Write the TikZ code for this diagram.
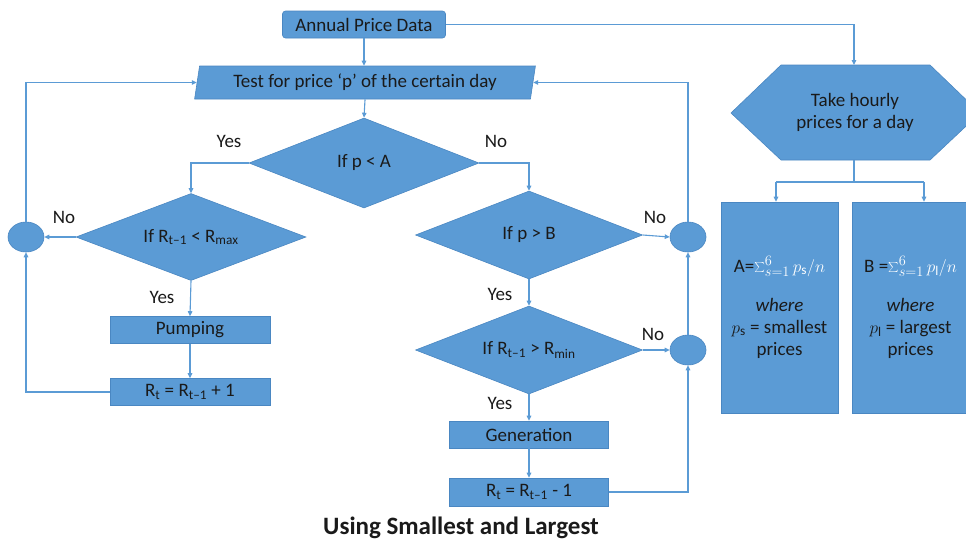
\documentclass[tikz,border=0pt]{standalone}
\usepackage{fontspec}
\setmainfont{Carlito}
\usetikzlibrary{shapes.geometric,arrows.meta,calc}
\definecolor{shapefill}{HTML}{5B9BD5}
\definecolor{shapeedge}{HTML}{4A87C2}
\definecolor{linec}{HTML}{5B9BD5}
\definecolor{txt}{HTML}{1A1A1A}
\tikzset{
  base/.style={fill=shapefill, draw=shapeedge, line width=0.6pt, text=txt,
    font=\fontsize{19}{22}\selectfont, inner sep=1pt},
  procbox/.style={base, rectangle, minimum width=160pt, minimum height=27pt},
  decide/.style={base, diamond, aspect=2.6},
  joint/.style={base, ellipse, minimum width=36pt, minimum height=30pt},
  conn/.style={draw=linec, line width=1.1pt},
  arr/.style={conn, -{Triangle[length=5pt,width=4.5pt]}},
  lbl/.style={text=txt, font=\fontsize{19}{22}\selectfont, inner sep=0pt},
}
\begin{document}
\begin{tikzpicture}[x=1pt,y=-1pt]
\useasboundingbox (0,0) rectangle (966,542);
\fill[white] (0,0) rectangle (966,542);

% top
\node[base, rounded corners=3pt, minimum width=163pt, minimum height=27pt] (annual) at (364,24.5) {Annual Price Data};
\node[base, trapezium, trapezium left angle=78, trapezium right angle=102, trapezium stretches=true,
      minimum width=342pt, minimum height=33pt] (test) at (365,82.5) {Test for price ‘p’ of the certain day};

% decisions
\node[decide, minimum width=230pt, minimum height=90pt] (d1) at (364,163) {If p < A};
\node[decide, minimum width=230pt, minimum height=87pt] (d2) at (191,237) {If R\textsubscript{t–1} < R\textsubscript{max}};
\node[decide, minimum width=227pt, minimum height=88pt] (d3) at (529,235) {If p > B};
\node[decide, minimum width=227pt, minimum height=88pt] (d4) at (529,350) {If R\textsubscript{t–1} > R\textsubscript{min}};

% joints
\node[joint] (c1) at (26,237) {};
\node[joint] (c2) at (688,237) {};
\node[joint] (c3) at (688,350) {};

% process boxes
\node[procbox] (pump) at (190,330) {Pumping};
\node[procbox] (rt1) at (190,392) {R\textsubscript{t} = R\textsubscript{t–1} + 1};
\node[procbox, minimum width=159pt] (gen) at (529,434.5) {Generation};
\node[procbox, minimum width=159pt, minimum height=28pt] (rt2) at (529,492) {R\textsubscript{t} = R\textsubscript{t–1} - 1};

% hexagon
\begin{scope}
\clip (0,0) rectangle (966,542);
\filldraw[fill=shapefill, draw=shapeedge, line width=0.6pt]
  (731,113) -- (781,65) -- (930,65) -- (980,113) -- (930,160) -- (781,160) -- cycle;
\end{scope}
\node[lbl, align=center] (hex) at (855,112) {Take hourly\\prices for a day};
\coordinate (hextop) at (854,65);
\coordinate (hexbot) at (854,160);

% A and B boxes
\node[base, rectangle, minimum width=117pt, minimum height=211pt, align=center] (boxa) at (779.5,307.5)
  {A=\textcolor{white}{$\sum_{s=1}^{6}p_{\mathrm{s}}/n$}\\[17pt]\textit{where}\\$p_{\mathrm{s}}$ = smallest\\prices};
\node[base, rectangle, minimum width=117pt, minimum height=211pt, align=center] (boxb) at (910.5,307.5)
  {B =\textcolor{white}{$\sum_{s=1}^{6}p_{\mathrm{l}}/n$}\\[17pt]\textit{where}\\$p_{\mathrm{l}}$ = largest\\prices};

% labels
\node[lbl] (y1) at (229,141) {Yes};
\node[lbl] (n1) at (496,141) {No};
\node[lbl] (n2) at (64,217) {No};
\node[lbl] (y2) at (162,297) {Yes};
\node[lbl] (n3) at (655,217) {No};
\node[lbl] (y3) at (500,294) {Yes};
\node[lbl] (n4) at (653,334) {No};
\node[lbl] (y4) at (500,403) {Yes};

% title
\node[text=txt, font=\bfseries\fontsize{25}{30}\selectfont] (title) at (461,528) {Using Smallest and Largest};

% connectors
\coordinate (testL) at ($(test.top left corner)!0.5!(test.bottom left corner)$);
\coordinate (testR) at ($(test.top right corner)!0.5!(test.bottom right corner)$);
\draw[arr] (annual.south) -- (annual.south |- test.north);
\draw[arr] (annual.east) -| (hextop);
\draw[arr] (test.south) -- (d1.north);
\draw[arr] (d1.west) -| (d2.north);
\draw[arr] (d1.east) -| (d3.north);
\draw[arr] (d2.west) -- (c1.east);
\draw[arr] (d2.south) -- (pump.north);
\draw[arr] (pump.south) -- (rt1.north);
\draw[arr] (rt1.west) -| (c1.south);
\draw[arr] (c1.north) |- (testL);
\draw[arr] (d3.east) -- (c2.west);
\draw[arr] (d3.south) -- (d4.north);
\draw[arr] (d4.east) -- (c3.west);
\draw[arr] (d4.south) -- (gen.north);
\draw[arr] (gen.south) -- (rt2.north);
\draw[arr] (rt2.east) -| (c3.south);
\draw[arr] (c3.north) -- (c2.south);
\draw[arr] (c2.north) |- (testR);
\coordinate (split) at (854,182);
\coordinate (splitA) at (776,182);
\coordinate (splitB) at (924,182);
\draw[conn] (hexbot) -- (split);
\draw[conn] (splitA) -- (splitB);
\draw[arr] (splitA) -- (splitA |- boxa.north);
\draw[arr] (splitB) -- (splitB |- boxb.north);
\end{tikzpicture}
\end{document}
